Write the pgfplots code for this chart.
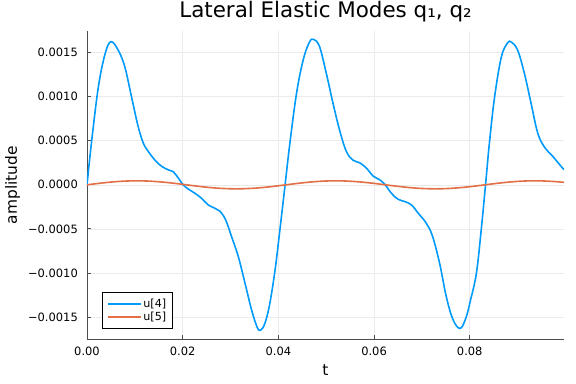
\documentclass[border=0pt]{standalone}
\usepackage{pgfplots}
\pgfplotsset{compat=1.18}
\usepackage{fontspec}
\setmainfont{DejaVu Sans}
\definecolor{jblue}{HTML}{009AFA}
\definecolor{jorange}{HTML}{E26F46}
\begin{document}
\begin{tikzpicture}
\path[use as bounding box] (-87bp,-45bp) rectangle (489bp,339bp);
\begin{axis}[
  at={(0,0)}, anchor=south west,
  scale only axis, width=477bp, height=308bp,
  xmin=0, xmax=0.0997, ymin=-0.00175, ymax=0.001746,
  axis lines*=left,
  axis line style={black!70, line width=0.8bp},
  xtick={0,0.02,0.04,0.06,0.08},
  xticklabels={0.00,0.02,0.04,0.06,0.08},
  ytick={-0.0015,-0.001,-0.0005,0,0.0005,0.001,0.0015},
  yticklabels={−0.0015,−0.0010,−0.0005,0.0000,0.0005,0.0010,0.0015},
  scaled ticks=false,
  tick align=inside, major tick length=4bp,
  tick style={black!70, line width=0.8bp},
  xtick pos=bottom, ytick pos=left,
  grid=major, grid style={black!8, line width=0.6bp},
  ticklabel style={font=\fontsize{11.5}{13}\selectfont},
  yticklabel style={inner sep=0pt, xshift=-9bp},
  xticklabel style={inner sep=0pt, yshift=-7.5bp},
  title={Lateral Elastic Modes q₁, q₂},
  title style={at={(axis description cs:0.5,1.026)}, anchor=base, inner sep=0pt, font=\fontsize{21.5}{24}\selectfont},
  xlabel={t},
  xlabel style={at={(axis description cs:0.5,-0.1169)}, anchor=base, inner sep=0pt, font=\fontsize{15.5}{18}\selectfont},
  ylabel={amplitude},
  ylabel style={at={(axis description cs:-0.1468,0.5)}, anchor=base, inner sep=0pt, font=\fontsize{15.5}{18}\selectfont},
  legend cell align=left,
  legend image code/.code={\draw[#1] (0bp,0bp) -- (33bp,0bp);},
  legend style={at={(axis description cs:0.0314,0.0325)}, anchor=south west,
    draw=black, line width=0.6bp, font=\fontsize{11.2}{12}\selectfont,
    inner xsep=5bp, inner ysep=5bp, row sep=0.5bp,
    nodes={inner sep=1.5bp}},
]
\addplot[jblue, line width=1.6bp, smooth, tension=0.6] coordinates {
(0,0) (0.0010,0.00051) (0.0024,0.00112) (0.0038,0.00149) (0.0050,0.001625)
(0.0065,0.00153) (0.0079,0.00134) (0.0093,0.00100) (0.0107,0.00066) (0.0118,0.00047)
(0.0128,0.00038) (0.0142,0.00028) (0.0156,0.00021) (0.0170,0.00017) (0.0180,0.00015)
(0.0191,0.000076) (0.0201,0.0) (0.0212,-0.000049) (0.0225,-0.000094) (0.0239,-0.000151)
(0.0253,-0.000227) (0.0267,-0.000265) (0.0278,-0.00030) (0.0290,-0.00040) (0.0302,-0.000586)
(0.0316,-0.00081) (0.0330,-0.00111) (0.0344,-0.00142) (0.0356,-0.00162) (0.0363,-0.00165)
(0.0372,-0.00157) (0.0382,-0.00135) (0.0393,-0.00097) (0.0403,-0.00052) (0.0413,-0.00005)
(0.0424,0.00047) (0.0438,0.00104) (0.0452,0.00142) (0.0465,0.00162) (0.0474,0.00165)
(0.0486,0.00157) (0.0500,0.00127) (0.0514,0.00093) (0.0528,0.00062) (0.0542,0.00038)
(0.0556,0.00028) (0.0570,0.00025) (0.0584,0.00019) (0.0598,0.00010) (0.0612,0.000057)
(0.0622,0.00001) (0.0636,-0.000094) (0.0650,-0.000163) (0.0664,-0.00019) (0.0678,-0.000227)
(0.0692,-0.00032) (0.0709,-0.000435) (0.0722,-0.00058) (0.0737,-0.00089) (0.0751,-0.00127)
(0.0765,-0.00153) (0.0780,-0.00163) (0.0792,-0.00151) (0.0802,-0.00130) (0.0814,-0.00100)
(0.0824,-0.00051) (0.0833,0.0) (0.0841,0.00047) (0.0852,0.00100) (0.0866,0.00145)
(0.0879,0.00161) (0.0887,0.00162) (0.0900,0.00153) (0.0914,0.00127) (0.0928,0.00093)
(0.0942,0.00059) (0.0956,0.00043) (0.0974,0.00032) (0.0994,0.00019) (0.0997,0.00018)
};
\addlegendentry{u[4]}
\addplot[jorange, line width=1.6bp, smooth] coordinates {
(0,0) (0.0025,0.0000168) (0.005,0.0000312) (0.0075,0.0000412) (0.01,0.0000454)
(0.0125,0.0000432) (0.015,0.0000349) (0.0175,0.0000218) (0.02,0.0000055) (0.0225,-0.0000116)
(0.025,-0.0000269) (0.0275,-0.0000386) (0.03,-0.0000447) (0.0325,-0.0000446) (0.035,-0.0000382)
(0.0375,-0.0000264) (0.04,-0.0000109) (0.0425,0.0000062) (0.045,0.0000224) (0.0475,0.0000354)
(0.05,0.0000435) (0.0525,0.0000454) (0.055,0.0000409) (0.0575,0.0000306) (0.06,0.0000162)
(0.0625,-0.0000007) (0.065,-0.0000174) (0.0675,-0.0000317) (0.07,-0.0000415) (0.0725,-0.0000454)
(0.075,-0.0000430) (0.0775,-0.0000344) (0.08,-0.0000211) (0.0825,-0.0000048) (0.085,0.0000122)
(0.0875,0.0000275) (0.09,0.0000389) (0.0925,0.0000449) (0.095,0.0000445) (0.0975,0.0000378)
(0.0997,0.0000282)
};
\addlegendentry{u[5]}
\end{axis}
\end{tikzpicture}
\end{document}
